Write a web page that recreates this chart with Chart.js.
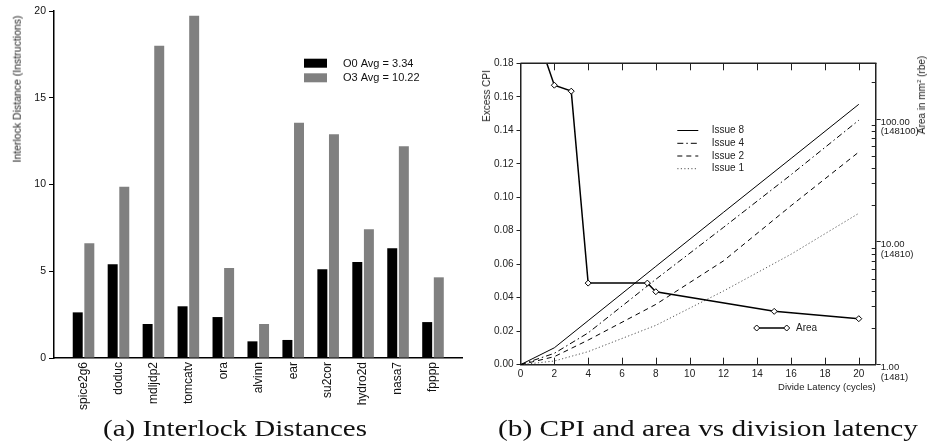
<!DOCTYPE html>
<html><head><meta charset="utf-8">
<script src="https://cdn.jsdelivr.net/npm/chart.js@4/dist/chart.umd.min.js"></script>
<style>
html,body{margin:0;padding:0;background:#fff;width:928px;height:446px;overflow:hidden;}
body{position:relative;font-family:"Liberation Sans",Arial,sans-serif;}
canvas{position:absolute;top:0;}
#c1{left:0;}
#c2{left:464px;}
.rot{position:absolute;white-space:nowrap;color:#222;transform:translate(-50%,-50%) rotate(-90deg);line-height:1;}
.cap{position:absolute;white-space:nowrap;font-family:"Liberation Serif","DejaVu Serif",serif;font-size:24px;line-height:24px;color:#111;transform-origin:left center;}
</style></head><body>
<canvas id="c1" width="464" height="446"></canvas>
<canvas id="c2" width="464" height="400"></canvas>
<div class="rot" style="left:17px;top:89px;font-size:10.5px;">Interlock Distance (Instructions)</div>
<div class="rot" style="left:487px;top:96px;font-size:10px;">Excess CPI</div>
<div class="rot" style="left:922px;top:95px;font-size:10px;">Area in mm<sup style="font-size:6px;vertical-align:4px;line-height:0">2</sup> (rbe)</div>
<div class="cap" id="capA" data-w="264" style="left:103px;top:416px;">(a) Interlock Distances</div>
<div class="cap" id="capB" data-w="420" style="left:498px;top:416px;">(b) CPI and area vs division latency</div>
<script>
// ---------- data: chart (a) ----------
const categories = ['spice2g6','doduc','mdljdp2','tomcatv','ora','alvinn','ear','su2cor','hydro2d','nasa7','fpppp'];
const o0Values = [2.63, 5.40, 1.96, 2.98, 2.36, 0.96, 1.04, 5.11, 5.53, 6.32, 2.07];
const o3Values = [6.61, 9.87, 18.0, 19.73, 5.19, 1.96, 13.56, 12.9, 7.42, 12.2, 4.65];
const seriesLabels = ['O0 Avg = 3.34', 'O3 Avg = 10.22'];
const distTicks = [0, 5, 10, 15, 20];

// ---------- data: chart (b) ----------
const latency = [0, 2, 4, 8, 12, 16, 20];
const issue8 = [0, 0.0101, 0.0263, 0.0587, 0.0910, 0.1232, 0.1555];
const issue4 = [0, 0.0068, 0.0190, 0.0510, 0.0820, 0.1135, 0.1460];
const issue2 = [0, 0.0048, 0.0147, 0.0360, 0.0620, 0.0950, 0.1270];
const issue1 = [0, 0.0022, 0.0078, 0.0235, 0.0440, 0.0660, 0.0904];
const issueLabels = ['Issue 8', 'Issue 4', 'Issue 2', 'Issue 1'];
const areaLatency = [1, 2, 3, 4, 7.5, 8, 15, 20];
const areaValues = [476, 189, 169, 4.62, 4.62, 3.93, 2.72, 2.37];
const latencyTicks = [0, 2, 4, 6, 8, 10, 12, 14, 16, 18, 20];
const cpiTicks = [0, 0.02, 0.04, 0.06, 0.08, 0.10, 0.12, 0.14, 0.16, 0.18];
const areaTicks = [1, 10, 100];
const areaTickRbe = ['(1481)', '(14810)', '(148100)'];
const areaMinorTicks = [2,3,4,5,6,7,8,9,20,30,40,50,60,70,80,90,200];

Chart.defaults.font.family = '"Liberation Sans", Arial, sans-serif';
Chart.defaults.color = '#222';

// ---------- chart (a) ----------
const legendA = {
  id: 'legendA',
  afterDraw(chart) {
    const ctx = chart.ctx;
    ctx.save();
    const rows = [{y: 58.7, ty: 63.5}, {y: 73.3, ty: 78}];
    chart.data.datasets.forEach((ds, i) => {
      ctx.fillStyle = ds.backgroundColor;
      ctx.fillRect(304, rows[i].y, 23, 9);
      ctx.fillStyle = '#111';
      ctx.font = '11px "Liberation Sans", Arial, sans-serif';
      ctx.textBaseline = 'middle';
      ctx.fillText(ds.label, 343, rows[i].ty);
    });
    ctx.restore();
  }
};

new Chart(document.getElementById('c1'), {
  type: 'bar',
  data: {
    datasets: [
      {label: seriesLabels[0], data: o0Values.map((v, i) => ({x: i, y: v})), backgroundColor: '#000000',
       categoryPercentage: 0.664, barPercentage: 0.86},
      {label: seriesLabels[1], data: o3Values.map((v, i) => ({x: i, y: v})), backgroundColor: '#808080',
       categoryPercentage: 0.664, barPercentage: 0.86}
    ]
  },
  options: {
    responsive: false, animation: false,
    layout: {padding: {top: 11, right: 2, left: 0, bottom: 0}},
    plugins: {legend: {display: false}, tooltip: {enabled: false}},
    scales: {
      x: {
        type: 'linear', min: -0.845, max: 10.83, offset: false,
        grid: {drawOnChartArea: false, drawTicks: false},
        border: {display: true, color: '#000', width: 1.5},
        afterBuildTicks: s => { s.ticks = categories.map((c, i) => ({value: i})); },
        afterFit: s => { s.height = 88; },
        ticks: {autoSkip: false, maxRotation: 90, minRotation: 90, padding: 4, color: '#111',
                font: {size: 12}, callback: v => categories[v]}
      },
      y: {
        min: 0, max: 20,
        afterBuildTicks: s => { s.ticks = distTicks.map(v => ({value: v})); },
        afterFit: s => { s.width = 54; },
        grid: {drawOnChartArea: false, tickLength: 5, color: '#000', lineWidth: 1},
        border: {display: true, color: '#000', width: 1.5},
        ticks: {padding: 3, color: '#111', font: {size: 10.5}}
      }
    }
  },
  plugins: [legendA]
});

// ---------- chart (b) ----------
const extrasB = {
  id: 'extrasB',
  afterDraw(chart) {
    const ctx = chart.ctx, a = chart.chartArea;
    const xs = chart.scales.x, ya = chart.scales.yArea;
    ctx.save();
    ctx.strokeStyle = '#222';
    ctx.lineWidth = 1.5;
    ctx.beginPath(); ctx.moveTo(a.left, a.top); ctx.lineTo(a.right + 0.75, a.top); ctx.stroke();
    ctx.lineWidth = 1;
    latencyTicks.forEach(v => {
      const px = Math.round(xs.getPixelForValue(v)) + 0.5;
      if (v === 0) return;
      ctx.beginPath(); ctx.moveTo(px, a.bottom); ctx.lineTo(px, a.bottom - 7); ctx.stroke();
      ctx.beginPath(); ctx.moveTo(px, a.top); ctx.lineTo(px, a.top + 7); ctx.stroke();
    });
    areaMinorTicks.forEach(v => {
      const py = Math.round(ya.getPixelForValue(v)) + 0.5;
      ctx.beginPath(); ctx.moveTo(a.right, py); ctx.lineTo(a.right - 4, py); ctx.stroke();
    });
    ctx.font = '10px "Liberation Sans", Arial, sans-serif';
    ctx.textBaseline = 'middle';
    const ys = [130.5, 143.3, 156, 168.7];
    issueLabels.forEach((lab, i) => {
      const ds = chart.data.datasets.find(d => d.label === lab);
      ctx.strokeStyle = ds.borderColor;
      ctx.lineWidth = ds.borderWidth;
      ctx.setLineDash(ds.borderDash || []);
      ctx.beginPath(); ctx.moveTo(213.3, ys[i]); ctx.lineTo(234.3, ys[i]); ctx.stroke();
      ctx.setLineDash([]);
      ctx.fillStyle = '#222';
      ctx.fillText(lab, 247.7, ys[i]);
    });
    const ad = chart.data.datasets[0];
    const ly = 328;
    ctx.strokeStyle = '#000'; ctx.lineWidth = ad.borderWidth;
    ctx.beginPath(); ctx.moveTo(292.7, ly); ctx.lineTo(322.7, ly); ctx.stroke();
    [292.7, 322.7].forEach(x => {
      const r = ad.pointRadius;
      ctx.beginPath(); ctx.moveTo(x, ly - r); ctx.lineTo(x + r, ly); ctx.lineTo(x, ly + r); ctx.lineTo(x - r, ly); ctx.closePath();
      ctx.fillStyle = '#fff'; ctx.fill(); ctx.lineWidth = 1; ctx.stroke();
    });
    ctx.fillStyle = '#222';
    ctx.fillText(ad.label, 332, ly);
    ctx.restore();
  }
};

const mk = (arr) => latency.map((x, i) => ({x, y: arr[i]}));

new Chart(document.getElementById('c2'), {
  type: 'line',
  data: {
    datasets: [
      {label: 'Area', data: areaLatency.map((x, i) => ({x, y: areaValues[i]})), yAxisID: 'yArea',
       borderColor: '#000', borderWidth: 1.5, pointStyle: 'rectRot', pointRadius: 3,
       pointBackgroundColor: '#fff', pointBorderColor: '#000', pointBorderWidth: 1},
      {label: issueLabels[0], data: mk(issue8), yAxisID: 'y', borderColor: '#000', borderWidth: 1, pointRadius: 0, borderDash: []},
      {label: issueLabels[1], data: mk(issue4), yAxisID: 'y', borderColor: '#000', borderWidth: 1, pointRadius: 0, borderDash: [6, 3, 1.5, 3]},
      {label: issueLabels[2], data: mk(issue2), yAxisID: 'y', borderColor: '#000', borderWidth: 1, pointRadius: 0, borderDash: [5, 4]},
      {label: issueLabels[3], data: mk(issue1), yAxisID: 'y', borderColor: '#555', borderWidth: 1, pointRadius: 0, borderDash: [1.2, 2.3]}
    ]
  },
  options: {
    responsive: false, animation: false,
    layout: {padding: {top: 63.3, right: 0, left: 0, bottom: 0}},
    plugins: {legend: {display: false}, tooltip: {enabled: false}},
    elements: {line: {tension: 0}},
    scales: {
      x: {
        type: 'linear', min: 0, max: 21,
        afterBuildTicks: s => { s.ticks = latencyTicks.map(v => ({value: v})); },
        afterFit: s => { s.height = 35.3; },
        grid: {drawOnChartArea: false, drawTicks: false},
        border: {display: true, color: '#222', width: 1.5},
        ticks: {padding: 4, color: '#222', font: {size: 10}},
        title: {display: true, text: 'Divide Latency (cycles)', align: 'end', color: '#222',
                font: {size: 9.5}, padding: {top: 0, bottom: 7}}
      },
      y: {
        position: 'left', min: 0, max: 0.18,
        afterBuildTicks: s => { s.ticks = cpiTicks.map(v => ({value: v})); },
        afterFit: s => { s.width = 56.5; },
        grid: {drawOnChartArea: false, tickLength: 4, color: '#222', lineWidth: 1},
        border: {display: true, color: '#222', width: 1.5},
        ticks: {padding: 3, color: '#222', font: {size: 10}, callback: v => v.toFixed(2)}
      },
      yArea: {
        type: 'logarithmic', position: 'right', min: 1, max: 285,
        afterBuildTicks: s => { s.ticks = areaTicks.map(v => ({value: v})); },
        afterFit: s => { s.width = 52.3; },
        grid: {drawOnChartArea: false, tickLength: 5, color: '#222', lineWidth: 1},
        border: {display: true, color: '#222', width: 1.5},
        ticks: {padding: 0, color: '#222', font: {size: 9.5, lineHeight: 1}, labelOffset: 7.5,
                callback: v => { const i = areaTicks.indexOf(v); return i < 0 ? '' : [v.toFixed(2), areaTickRbe[i]]; }}
      }
    }
  },
  plugins: [extrasB]
});

document.querySelectorAll('.cap').forEach(el => {
  const w = el.getBoundingClientRect().width;
  el.style.transform = 'scaleX(' + (parseFloat(el.dataset.w) / w) + ')';
});
</script>
</body></html>
